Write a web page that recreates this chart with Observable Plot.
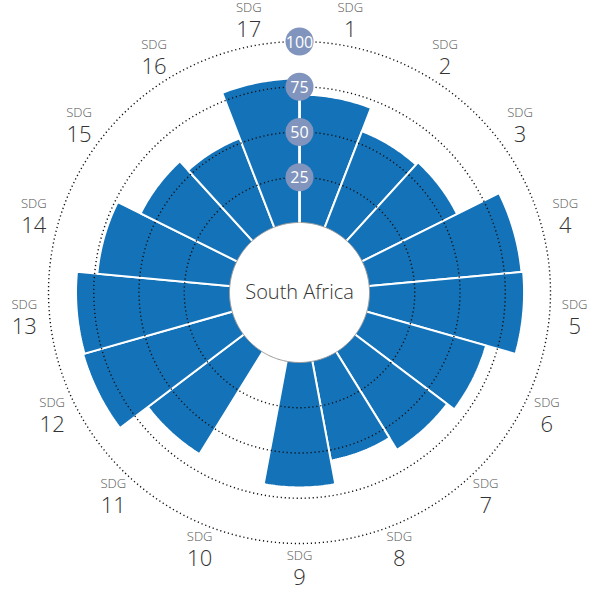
<!DOCTYPE html>
<html><head><meta charset="utf-8">
<script src="https://cdn.jsdelivr.net/npm/d3@7"></script>
<script src="https://cdn.jsdelivr.net/npm/@observablehq/plot@0.6"></script>
<style>body{margin:0;background:#fff}#chart svg{display:block}</style>
</head><body><div id="chart"></div>
<script>
// ---- data ----
const goals = ["1","2","3","4","5","6","7","8","9","10","11","12","13","14","15","16","17"];
const scores = [70.7, 56.9, 58.6, 84.5, 85.4, 68.5, 63.5, 55.8, 69.0, null, 66.3, 85.6, 84.8, 73.5, 59.4, 52.7, 79.6];
const gridValues = [25, 50, 75, 100];
const gridLabels = ["25", "50", "75", "100"];
const goalPrefix = "SDG";
const country = "South Africa";

// ---- layout ----
const W = 597, H = 589, cx = 299, cy = 292;
const k = 1.81;            // pixels per score unit
const hole = 70 / k;       // radial offset of score 0 (inner hole)
const labelR = hole + 114; // radial position of outer labels
const step = 360 / goals.length;
const rad = d => d * Math.PI / 180;
const polar = (rho, deg) => ({x: rho * Math.sin(rad(deg)), y: rho * Math.cos(rad(deg))});

const wedges = goals.flatMap((g, i) => {
  const v = scores[i];
  if (v == null) return [];
  const pts = [{goal: g, ...polar(0, 0)}];
  const n = 30;
  for (let j = 0; j <= n; j++) pts.push({goal: g, ...polar(hole + v, i * step + step * j / n)});
  pts.push({goal: g, ...polar(0, 0)});
  return pts;
});

const circle = (rho, key) => d3.range(0, 361, 1).map(a => ({key, ...polar(rho, a)}));
const rings = gridValues.flatMap(v => circle(hole + v, v));
const holePts = circle(hole, "hole");

const gridMarks = gridValues.map((v, i) => ({label: gridLabels[i], x: 0, y: hole + v}));
const outerLabels = goals.map((g, i) => ({goal: g, ...polar(labelR, (i + 0.5) * step)}));

const chart = Plot.plot({
  width: W, height: H, margin: 0,
  x: {domain: [-cx / k, (W - cx) / k], range: [0, W], axis: null},
  y: {domain: [-(H - cy) / k, cy / k], range: [H, 0], axis: null},
  style: {fontFamily: "'Open Sans', sans-serif", background: "#fff"},
  marks: [
    Plot.line(wedges, {x: "x", y: "y", z: "goal", fill: "#1372b8", stroke: "white", strokeWidth: 2, curve: "linear", strokeLinejoin: "miter"}),
    Plot.line(rings, {x: "x", y: "y", z: "key", stroke: "#111", strokeWidth: 1.4, strokeDasharray: "1.2 2.8", strokeLinecap: "butt"}),
    Plot.line(holePts, {x: "x", y: "y", fill: "white", stroke: "#999", strokeWidth: 1}),
    Plot.link([0], {x1: 0, y1: hole, x2: 0, y2: hole + d3.max(gridValues), stroke: "white", strokeWidth: 2.5}),
    Plot.dot(gridMarks, {x: "x", y: "y", r: 14, fill: "#8094bd", stroke: null}),
    Plot.text(gridMarks, {x: "x", y: "y", text: "label", fill: "white", fontSize: 16, dy: 1}),
    Plot.text([country], {x: 0, y: 0, text: d => d, fontSize: 20, fill: "#333", fontWeight: 300}),
    Plot.text(outerLabels, {x: "x", y: "y", text: () => goalPrefix, fontSize: 13, fill: "#555", dy: -13, fontWeight: 300}),
    Plot.text(outerLabels, {x: "x", y: "y", text: "goal", fontSize: 22, fill: "#333", dy: 9, fontWeight: 300})
  ]
});
document.getElementById("chart").appendChild(chart);
</script>
</body></html>
